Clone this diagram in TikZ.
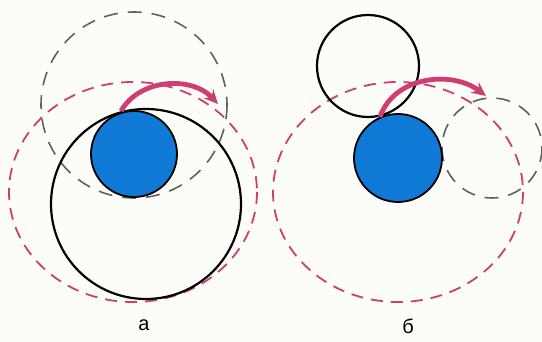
\documentclass[tikz,border=0pt]{standalone}
\usepackage{fontspec}
\setmainfont{Liberation Sans}
\usetikzlibrary{arrows.meta,calc}
\definecolor{BallBlue}{RGB}{16,122,214}
\definecolor{PathPink}{RGB}{206,62,112}
\definecolor{OrbGray}{RGB}{96,96,96}
\definecolor{PaperBg}{RGB}{252,252,248}
\tikzset{
  ball/.style={draw=black,line width=0.9pt,fill=BallBlue},
  orbit/.style={draw=black,line width=1.1pt},
  ghost/.style={draw=OrbGray,line width=0.8pt,dash pattern=on 7pt off 5pt},
  track/.style={draw=PathPink,line width=0.9pt,dash pattern=on 6pt off 4pt},
  move/.style={-{Stealth[length=7pt,width=6.5pt]},PathPink,line width=2.4pt},
  panel/.style={font=\fontsize{10}{11}\selectfont},
}

\begin{document}
\begin{tikzpicture}[x=0.5pt,y=-0.5pt]
  \fill[PaperBg] (0,0) rectangle (542,342);
  \useasboundingbox (0,0) rectangle (542,342);
  % panel a
  \coordinate (ba) at (134,154);
  \draw[track] (133,192) ellipse [x radius=124,y radius=110];
  \draw[ghost] (134,105) circle [radius=93];
  \draw[orbit] (146,204) circle [radius=95];
  \draw[ball] (ba) circle [radius=43];
  \coordinate (sa) at (121,111);
  \coordinate (ea) at (218,104);
  \draw[move] (sa) .. controls (140,78) and (192,76) .. (ea);
  \node[panel] (lbla) at (144,325) {а};
  % panel b
  \coordinate (bb) at (398,158);
  \draw[track] (398,192) ellipse [x radius=125,y radius=110];
  \draw[ghost] (492,148) circle [radius=50];
  \draw[orbit] (368,66) circle [radius=51];
  \draw[ball] (bb) circle [radius=44];
  \coordinate (sb) at (380,117);
  \coordinate (eb) at (486,96);
  \draw[move] (sb) .. controls (394,76) and (452,70) .. (eb);
  \node[panel] (lblb) at (408,326) {б};
\end{tikzpicture}
\end{document}
